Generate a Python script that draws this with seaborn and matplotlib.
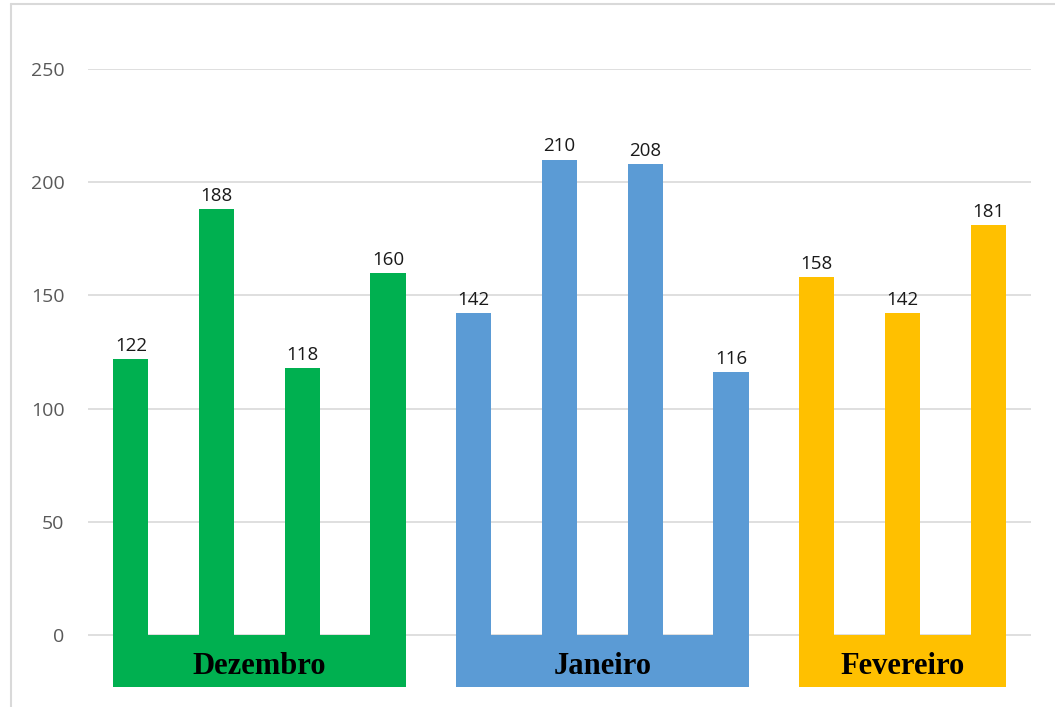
import matplotlib
matplotlib.use("Agg")
import matplotlib.pyplot as plt
from matplotlib.lines import Line2D
import seaborn as sns
import pandas as pd

# Monthly readings
months = ["Dezembro", "Janeiro", "Fevereiro"]
dezembro = [122, 188, 118, 160]
janeiro = [142, 210, 208, 116]
fevereiro = [158, 142, 181]
month_colors = ["#00B050", "#5B9BD5", "#FFC000"]
y_ticks = [0, 50, 100, 150, 200, 250]

series = [dezembro, janeiro, fevereiro]
rows = []
pos = 0
for m, vals in zip(months, series):
    for v in vals:
        rows.append({"pos": pos, "value": v, "month": m})
        pos += 1
df = pd.DataFrame(rows)

sns.set_style("white")
plt.rcParams["font.family"] = ["Open Sans", "DejaVu Sans"]

fig = plt.figure(figsize=(10.55, 7.07), dpi=100)
ax = fig.add_axes([88 / 1055, 20 / 707, (1031 - 88) / 1055, (687 - 69) / 707])

bar_w = 0.41
base_depth = 23

sns.barplot(data=df, x="pos", y="value", hue="month", palette=month_colors,
            dodge=False, width=bar_w, legend=False, ax=ax, zorder=3,
            linewidth=0, saturation=1)

for c in ax.containers:
    ax.bar_label(c, padding=3, fontsize=13.5, color="#1a1a1a")

# Coloured base strip under each month, carrying the month name
for m, col in zip(months, month_colors):
    p = df.loc[df["month"] == m, "pos"]
    left = p.min() - bar_w / 2
    right = p.max() + bar_w / 2
    ax.bar(left, -base_depth, width=right - left, bottom=0, align="edge",
           color=col, linewidth=0, zorder=3)
    ax.text((left + right) / 2, -base_depth / 2 - 2.6, m, ha="center", va="center",
            fontsize=22, fontweight="bold", family=["Liberation Serif"],
            color="black", zorder=4)

ax.set_xlim(-0.5, len(df) - 0.5)
ax.set_ylim(-base_depth, 250)
ax.set_yticks(y_ticks)
ax.set_yticklabels([str(t) for t in y_ticks])
ax.yaxis.grid(True, color="#d9d9d9", linewidth=1.2, zorder=0)
ax.xaxis.grid(False)
ax.set_xticks([])
ax.set_xlabel("")
ax.set_ylabel("")
ax.tick_params(axis="y", length=0, pad=17, labelsize=14, labelcolor="#595959")
for s in ax.spines.values():
    s.set_visible(False)

# Light outline along the top and left of the chart area
fig.add_artist(Line2D([11 / 1055, 1.0], [1 - 4 / 707, 1 - 4 / 707],
                      color="#d9d9d9", linewidth=1.5, transform=fig.transFigure))
fig.add_artist(Line2D([11 / 1055, 11 / 1055], [0, 1 - 4 / 707],
                      color="#d9d9d9", linewidth=1.5, transform=fig.transFigure))

fig.savefig("out.png", dpi=100, facecolor="white")
